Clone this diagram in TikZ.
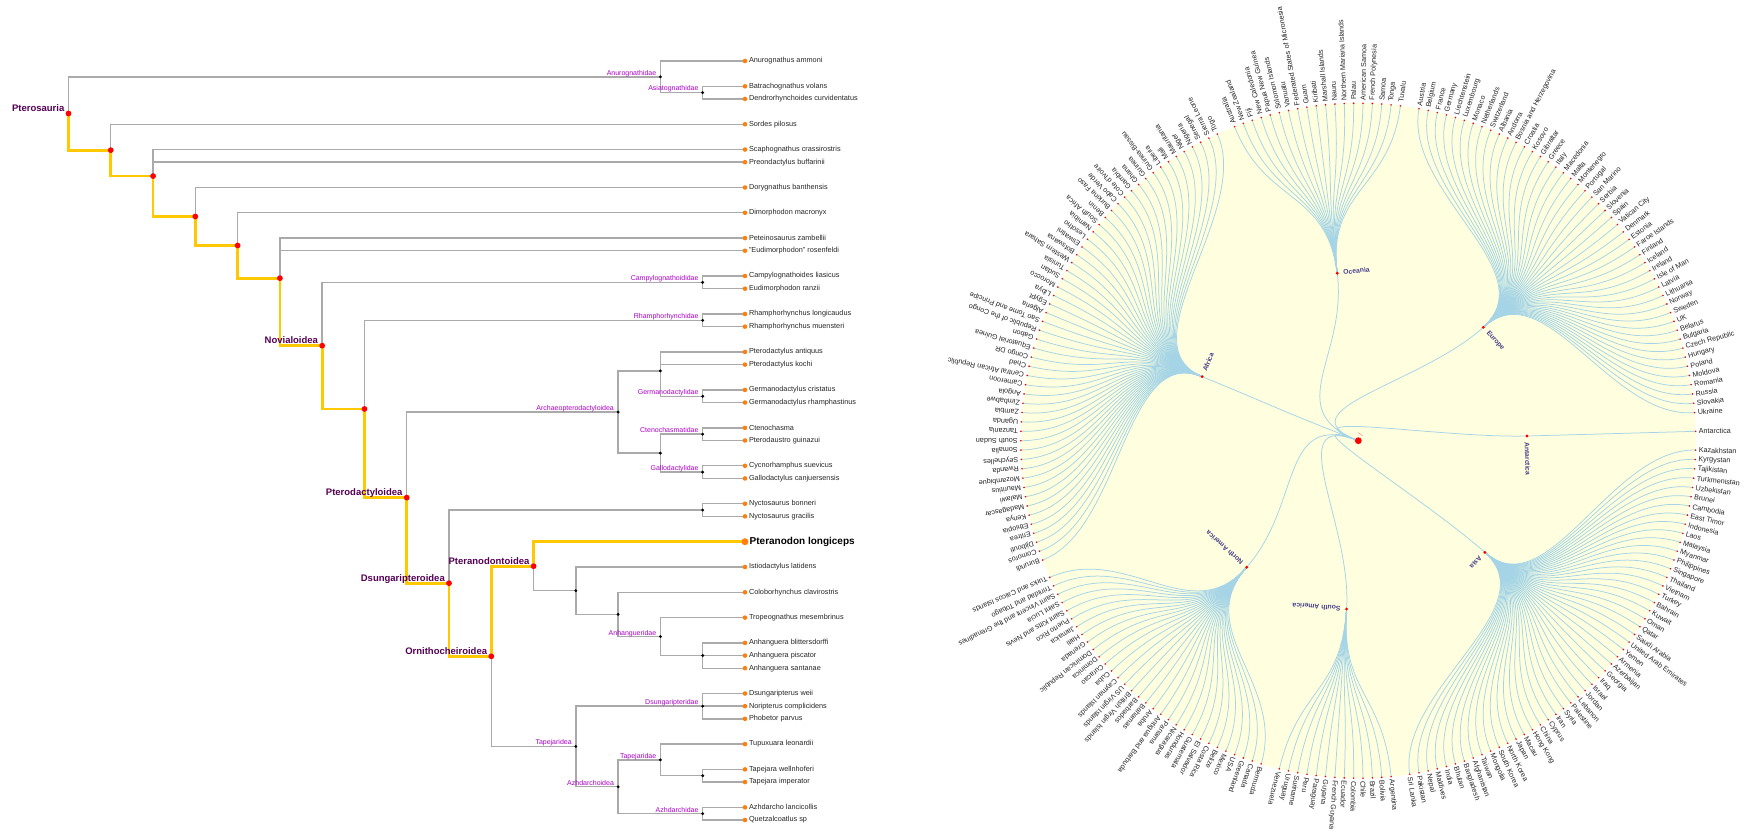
\documentclass[tikz,border=0pt]{standalone}
\usepackage{fontspec}
\setmainfont{Liberation Sans}
\definecolor{linkgray}{RGB}{170,170,170}
\definecolor{pathgold}{RGB}{255,200,0}
\definecolor{leaforange}{RGB}{255,127,14}
\definecolor{cladeviolet}{RGB}{170,0,200}
\definecolor{pathpurple}{RGB}{85,0,85}
\definecolor{bgyellow}{RGB}{255,255,224}
\definecolor{radblue}{RGB}{164,212,230}
\definecolor{contblue}{RGB}{72,61,139}
\definecolor{rootpink}{RGB}{255,110,110}

\newcommand\pteroleaves{61/Anurognathus ammoni,86.3/Batrachognathus volans,98.95/Dendrorhynchoides curvidentatus,124.25/Sordes pilosus,149.55/Scaphognathus crassirostris,162.2/Preondactylus buffarinii,187.5/Dorygnathus banthensis,212.8/Dimorphodon macronyx,238.1/Peteinosaurus zambellii,250.75/{\char34}Eudimorphodon{\char34} rosenfeldi,276.05/Campylognathoides liasicus,288.7/Eudimorphodon ranzii,314/Rhamphorhynchus longicaudus,326.65/Rhamphorhynchus muensteri,351.95/Pterodactylus antiquus,364.6/Pterodactylus kochi,389.9/Germanodactylus cristatus,402.55/Germanodactylus rhamphastinus,427.85/Ctenochasma,440.5/Pterodaustro guinazui,465.8/Cycnorhamphus suevicus,478.45/Gallodactylus canjuersensis,503.75/Nyctosaurus bonneri,516.4/Nyctosaurus gracilis,541.7/Pteranodon longiceps,567/Istiodactylus latidens,592.3/Coloborhynchus clavirostris,617.6/Tropeognathus mesembrinus,642.9/Anhanguera blittersdorffi,655.55/Anhanguera piscator,668.2/Anhanguera santanae,693.5/Dsungaripterus weii,706.15/Noripterus complicidens,718.8/Phobetor parvus,744.1/Tupuxuara leonardii,769.4/Tapejara wellnhoferi,782.05/Tapejara imperator,807.35/Azhdarcho lancicollis,820/Quetzalcoatlus sp}

\newcommand\unitang{1.5929204}
\newcommand\drawcontinent[4]{%
  \pgfmathsetmacro\mycang{-(#3)*\unitang}%
  \foreach \nm [count=\k from 0] in {#4}{%
    \pgfmathsetmacro\myang{-(#2+\k)*\unitang}%
    \pgfmathtruncatemacro\myu{#2+\k}%
    \coordinate (cty\myu) at (\myang:337.5);
    \draw[radlink] (#1) .. controls (\mycang:253.1) and (\myang:253.1) .. (cty\myu);
    \fill[red] (cty\myu) circle (0.9);
    \node[radtext, rotate=\myang] (ctyl\myu) at (cty\myu) {\nm};
  }%
}

\begin{document}
\begin{tikzpicture}[x=1pt,y=1pt,
  tlink/.style={draw=linkgray, line width=1.4pt},
  plink/.style={draw=pathgold, line width=2.8pt},
  rdot/.style={circle, fill=red, inner sep=0pt, minimum size=5.8pt},
  bdot/.style={circle, fill=black, inner sep=0pt, minimum size=3.2pt},
  odot/.style={circle, fill=leaforange, inner sep=0pt, minimum size=4.6pt},
  leaftext/.style={anchor=west, inner sep=0pt, font=\fontsize{7.3}{8}\selectfont, text=black!85},
  cladetext/.style={anchor=base east, inner sep=0pt, font=\fontsize{7}{8}\selectfont, text=cladeviolet},
  pathtext/.style={anchor=base east, inner sep=0pt, font=\bfseries\fontsize{9.5}{11}\selectfont, text=pathpurple},
  radlink/.style={draw=radblue, line width=0.75pt},
  radtext/.style={anchor=west, inner xsep=3pt, inner ysep=0pt, font=\fontsize{7.2}{8}\selectfont, text=black!85},
  contlabel/.style={anchor=west, inner xsep=6pt, inner ysep=0pt, font=\bfseries\fontsize{6.8}{8}\selectfont, text=contblue},
  rootlabel/.style={anchor=west, inner xsep=5pt, inner ysep=0pt, font=\fontsize{7}{8}\selectfont, text=rootpink}]
\useasboundingbox (0,0) rectangle (1749,839);
\fill[white] (0,0) rectangle (1749,839);

%================ LEFT: pterosaur tree ================
\begin{scope}[shift={(0,839)}, yscale=-1]
\coordinate (n0) at (68.5,113.49);
\coordinate (n1) at (110.78,150.17);
\coordinate (n2) at (153.06,176.08);
\coordinate (n3) at (195.34,216.49);
\coordinate (n4) at (237.62,245.49);
\coordinate (n5) at (279.9,278.17);
\coordinate (n6) at (322.18,345.67);
\coordinate (n7) at (364.46,408.97);
\coordinate (n8) at (406.74,497.62);
\coordinate (n9) at (449.02,583.21);
\coordinate (n10) at (491.3,656.34);
\coordinate (n11) at (533.58,566.21);
\coordinate (anurog) at (660.42,76.81);
\coordinate (asiat) at (702.7,92.625);
\coordinate (campylo) at (702.7,282.375);
\coordinate (rhampho) at (702.7,320.325);
\coordinate (archaeo) at (618.14,412.04);
\coordinate (archU) at (660.42,370.925);
\coordinate (archL) at (660.42,453.15);
\coordinate (germ) at (702.7,396.225);
\coordinate (cteno) at (702.7,434.175);
\coordinate (gallo) at (702.7,472.125);
\coordinate (nyct) at (702.7,510.075);
\coordinate (nA) at (575.86,590.72);
\coordinate (nB) at (618.14,614.44);
\coordinate (anhang) at (660.42,636.575);
\coordinate (anhC) at (702.7,655.55);
\coordinate (tapea) at (575.86,746.47);
\coordinate (dsungid) at (702.7,706.15);
\coordinate (azhdoid) at (618.14,786.79);
\coordinate (tapidae) at (660.42,759.91);
\coordinate (tapD) at (702.7,775.725);
\coordinate (azhdid) at (702.7,813.675);
\foreach \yy/\tx [count=\k] in \pteroleaves {\coordinate (L\k) at (744.98,\yy);}

% grey links
\foreach \p/\c in {n0/anurog, anurog/L1, anurog/asiat, asiat/L2, asiat/L3,
  n1/L4, n2/L5, n2/L6, n3/L7, n4/L8, n5/L9, n5/L10,
  n6/campylo, campylo/L11, campylo/L12, n7/rhampho, rhampho/L13, rhampho/L14,
  n8/archaeo, archaeo/archU, archaeo/archL, archU/L15, archU/L16, archU/germ,
  germ/L17, germ/L18, archL/cteno, archL/gallo, cteno/L19, cteno/L20, gallo/L21, gallo/L22,
  n9/nyct, nyct/L23, nyct/L24, n10/tapea, tapea/dsungid, tapea/azhdoid,
  dsungid/L32, dsungid/L33, dsungid/L34, azhdoid/tapidae, azhdoid/azhdid,
  tapidae/L35, tapidae/tapD, tapD/L36, tapD/L37, azhdid/L38, azhdid/L39,
  n11/nA, nA/L26, nA/nB, nB/L27, nB/anhang, anhang/L28, anhang/anhC,
  anhC/L29, anhC/L30, anhC/L31}
  {\draw[tlink] (\p) |- (\c);}
% highlighted path
\foreach \p/\c in {n0/n1, n1/n2, n2/n3, n3/n4, n4/n5, n5/n6, n6/n7, n7/n8, n8/n9, n9/n10, n10/n11, n11/L25}
  {\draw[plink] (\p) |- (\c);}

% dots
\foreach \n in {anurog, asiat, campylo, rhampho, archaeo, archU, archL, germ, cteno, gallo, nyct, nA, nB, anhang, anhC, tapea, dsungid, azhdoid, tapidae, tapD, azhdid}
  {\node[bdot] (\n-d) at (\n) {};}
\foreach \n in {n0, n1, n2, n3, n4, n5, n6, n7, n8, n9, n10, n11}
  {\node[rdot] (\n-d) at (\n) {};}
\foreach \yy/\tx [count=\k] in \pteroleaves {
  \ifnum\k=25
    \node[odot, minimum size=7pt] (L\k-d) at (L\k) {};
    \node[anchor=west, inner sep=0pt, font=\bfseries\fontsize{10}{12}\selectfont] (L\k-t) at (749.5,\yy) {\tx};
  \else
    \node[odot] (L\k-d) at (L\k) {};
    \node[leaftext] (L\k-t) at (748.8,\yy) {\tx};
  \fi
}

% path labels
\node[pathtext] (n0-l) at (64.5,111.7) {Pterosauria};
\node[pathtext] (n6-l) at (318.2,343.9) {Novialoidea};
\node[pathtext] (n8-l) at (402.7,495.8) {Pterodactyloidea};
\node[pathtext] (n9-l) at (445,581.4) {Dsungaripteroidea};
\node[pathtext] (n10-l) at (487.3,654.5) {Ornithocheiroidea};
\node[pathtext] (n11-l) at (529.6,564.4) {Pteranodontoidea};
% clade labels
\node[cladetext] (anurog-l) at (656.4,75.2) {Anurognathidae};
\node[cladetext] (asiat-l) at (698.7,91.0) {Asiatognathidae};
\node[cladetext] (campylo-l) at (698.7,280.8) {Campylognathoididae};
\node[cladetext] (rhampho-l) at (698.7,318.7) {Rhamphorhynchidae};
\node[cladetext] (archaeo-l) at (614.1,410.4) {Archaeopterodactyloidea};
\node[cladetext] (germ-l) at (698.7,394.6) {Germanodactylidae};
\node[cladetext] (cteno-l) at (698.7,432.6) {Ctenochasmatidae};
\node[cladetext] (gallo-l) at (698.7,470.5) {Gallodactylidae};
\node[cladetext] (anhang-l) at (656.4,635.0) {Anhangueridae};
\node[cladetext] (tapea-l) at (571.9,744.9) {Tapejaridea};
\node[cladetext] (dsungid-l) at (698.7,704.6) {Dsungaripteridae};
\node[cladetext] (azhdoid-l) at (614.1,785.2) {Azhdarchoidea};
\node[cladetext] (tapidae-l) at (656.4,758.3) {Tapejaridae};
\node[cladetext] (azhdid-l) at (698.7,812.1) {Azhdarchidae};
\end{scope}

%================ RIGHT: radial tree ================
\begin{scope}[shift={(1358.3,398.3)}]
\fill[bgyellow] (0,0) circle (337.5);
\coordinate (root) at (0,0);
\foreach \c/\m in {asia/26, samerica/59, namerica/82.5, africa/127, oceania/165, europe/199.5, antarctica/225}
  {\coordinate (\c) at ({-\m*\unitang}:168.75);}
\foreach \c/\m in {asia/26, samerica/59, namerica/82.5, africa/127, oceania/165, europe/199.5, antarctica/225}
  {\draw[radlink] (root) .. controls (158.84:84.4) and ({-\m*\unitang}:84.4) .. (\c);}

\drawcontinent{asia}{1}{26}{Kazakhstan, Kyrgystan, Tajikistan, Turkmenistan, Uzbekistan, Brunei, Cambodia, East Timor, Indonesia, Laos, Malaysia, Myanmar, Philippines, Singapore, Thailand, Vietnam, Turkey, Bahrain, Kuwait, Oman, Qatar, Saudi Arabia, United Arab Emirates, Yemen, Armenia, Azerbaijan, Georgia, Iraq, Israel, Jordan, Lebanon, Palestine, Syria, Iran, Cyprus, China, Hong Kong, Macau, Japan, North Korea, South Korea, Mongolia, Taiwan, Afghanistan, Bangladesh, Bhutan, India, Maldives, Nepal, Pakistan, Sri Lanka}
\drawcontinent{samerica}{53}{59}{Argentina, Bolivia, Brazil, Chile, Colombia, Ecuador, French Guyana, Guyana, Paraguay, Peru, Suriname, Uruguay, Venezuela}
\drawcontinent{namerica}{67}{82.5}{Bermuda, Canada, Greenland, USA, Mexico, Belize, Costa Rica, El Salvador, Guatemala, Honduras, Nicaragua, Panama, Antigua and Barbuda, Aruba, Bahamas, Barbados, British Virgin Islands, US Virgin Islands, Cayman Islands, Cuba, Curacao, Dominica, Dominican Republic, Grenada, Haiti, Jamaica, Puerto Rico, Saint Kitts and Nevis, Saint Lucia, Saint Vincent and the Grenadines, Trinidad and Tobago, Turks and Caicos Islands}
\drawcontinent{africa}{100}{127}{Burundi, Comoros, Djibouti, Eritrea, Ethiopia, Kenya, Madagascar, Malawi, Mauritius, Mozambique, Rwanda, Seychelles, Somalia, South Sudan, Tanzania, Uganda, Zambia, Zimbabwe, Angola, Cameroon, Central African Republic, Chad, Congo DR, Equatorial Guinea, Gabon, Republic of the Congo, Sao Tome and Principe, Algeria, Egypt, Libya, Morocco, Sudan, Tunisia, Western Sahara, Botswana, Eswatini, Lesotho, Namibia, South Africa, Benin, Burkina Faso, Cabo Verde, Cote d'Ivoire, Gambia, Ghana, Guinea, Guinea-Bissau, Liberia, Mali, Mauritania, Niger, Nigeria, Senegal, Sierra Leone, Togo}
\drawcontinent{oceania}{156}{165}{Australia, New Zealand, Fiji, New Caledonia, Papua New Guinea, Solomon Islands, Vanuatu, Federated States of Micronesia, Guam, Kiribati, Marshall Islands, Nauru, Northern Mariana Islands, Palau, American Samoa, French Polynesia, Samoa, Tonga, Tuvalu}
\drawcontinent{europe}{176}{199.5}{Austria, Belgium, France, Germany, Liechtenstein, Luxembourg, Monaco, Netherlands, Switzerland, Albania, Andorra, Bosnia and Herzegovina, Croatia, Kosovo, Gibraltar, Greece, Italy, Macedonia, Malta, Montenegro, Portugal, San Marino, Serbia, Slovenia, Spain, Vatican City, Denmark, Estonia, Faroe Islands, Finland, Iceland, Ireland, Isle of Man, Latvia, Lithuania, Norway, Sweden, UK, Belarus, Bulgaria, Czech Republic, Hungary, Poland, Moldova, Romania, Russia, Slovakia, Ukraine}
\drawcontinent{antarctica}{225}{225}{Antarctica}

\foreach \c/\m/\t in {asia/26/Asia, samerica/59/South America, namerica/82.5/North America, africa/127/Africa, oceania/165/Oceania, europe/199.5/Europe, antarctica/225/Antarctica}
  {\fill[red] (\c) circle (1.6);
   \node[contlabel, rotate={-\m*\unitang-90}] (\c-l) at (\c) {\t};}
\fill[red] (root) circle (3.4);
\node[rootlabel, rotate=68.84] (root-l) at (root) {/};
\end{scope}
\end{tikzpicture}
\end{document}
